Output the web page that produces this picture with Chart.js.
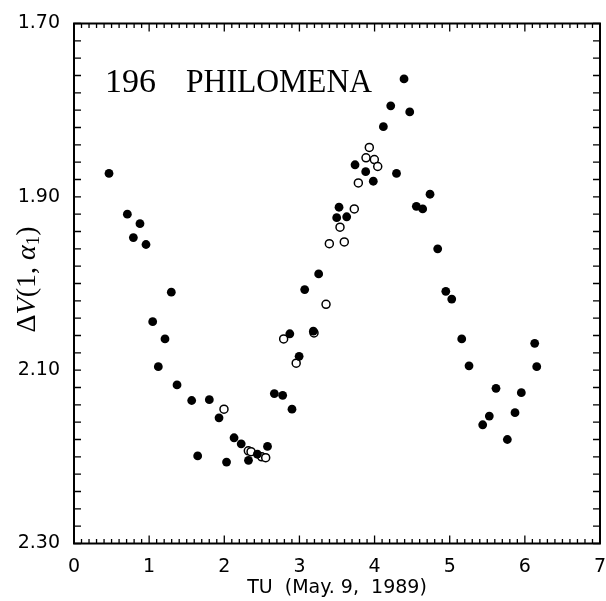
<!DOCTYPE html>
<html>
<head>
<meta charset="utf-8">
<script src="https://cdn.jsdelivr.net/npm/chart.js@4.4.1/dist/chart.umd.min.js"></script>
<style>
  html, body { margin: 0; padding: 0; background: #fff; }
  #wrap { width: 606px; height: 601px; position: relative; }
</style>
</head>
<body>
<div id="wrap"><canvas id="lc"></canvas></div>
<script>
// 196 Philomena lightcurve, TU (May 9, 1989)
const filledTU = [0.466, 0.710, 0.790, 0.878, 0.958, 1.047, 1.122, 1.211, 1.295, 1.371,
  1.566, 1.646, 1.801, 1.930, 2.030, 2.130, 2.225, 2.322, 2.440, 2.575,
  2.666, 2.777, 2.872, 2.901, 2.996, 3.070, 3.185, 3.256, 3.496, 3.527,
  3.629, 3.740, 3.882, 3.983, 4.117, 4.215, 4.292, 4.392, 4.468, 4.556,
  4.640, 4.738, 4.840, 4.948, 5.027, 5.160, 5.257, 5.439, 5.527, 5.616,
  5.767, 5.869, 5.953, 6.131, 6.158];
const filledDV = [1.873, 1.920, 1.947, 1.931, 1.955, 2.044, 2.096, 2.064, 2.010, 2.117,
  2.135, 2.199, 2.134, 2.155, 2.206, 2.178, 2.185, 2.204, 2.197, 2.188,
  2.127, 2.129, 2.058, 2.145, 2.084, 2.007, 2.055, 1.989, 1.924, 1.912,
  1.923, 1.863, 1.871, 1.882, 1.819, 1.795, 1.873, 1.764, 1.802, 1.911,
  1.914, 1.897, 1.960, 2.009, 2.018, 2.064, 2.095, 2.163, 2.153, 2.121,
  2.180, 2.149, 2.126, 2.069, 2.096];
const openTU = [1.996, 2.320, 2.356, 2.498, 2.551, 2.790, 2.957, 3.194, 3.354, 3.398,
  3.540, 3.597, 3.730, 3.784, 3.886, 3.930, 3.997, 4.042];
const openDV = [2.145, 2.193, 2.194, 2.200, 2.201, 2.064, 2.092, 2.057, 2.024, 1.954,
  1.935, 1.952, 1.914, 1.884, 1.855, 1.843, 1.857, 1.865];
const xTickLabels = [0, 1, 2, 3, 4, 5, 6, 7];
const yTickLabels = [1.70, 1.90, 2.10, 2.30];

const tickFont = { family: 'DejaVu Sans', size: 19, lineHeight: 1.0 };

// box with inward ticks on all four sides
const frameTicks = {
  id: 'frameTicks',
  afterDraw(chart) {
    const { ctx, chartArea: a, scales: { x, y } } = chart;
    ctx.save();
    ctx.strokeStyle = '#000';
    ctx.lineWidth = 1.3;
    ctx.beginPath();
    for (let i = 0; i <= 70; i++) {
      const px = x.getPixelForValue(i / 10);
      const len = i % 10 === 0 ? 8 : 4.5;
      ctx.moveTo(px, a.top); ctx.lineTo(px, a.top + len);
      ctx.moveTo(px, a.bottom); ctx.lineTo(px, a.bottom - len);
    }
    for (let i = 0; i <= 30; i++) {
      const py = y.getPixelForValue(1.70 + i * 0.02);
      ctx.moveTo(a.left, py); ctx.lineTo(a.left + 7, py);
      ctx.moveTo(a.right, py); ctx.lineTo(a.right - 7, py);
    }
    ctx.stroke();
    ctx.lineWidth = 2;
    ctx.strokeRect(a.left, a.top, a.right - a.left, a.bottom - a.top);

    // object name
    ctx.fillStyle = '#000';
    ctx.textBaseline = 'alphabetic';
    ctx.textAlign = 'left';
    ctx.font = '34px "Liberation Serif"';
    ctx.fillText('196', 105, 92);
    ctx.fillText('PHILOMENA', 186, 92, 186);

    // y axis title: ΔV(1, α1)
    const segs = [
      ['Δ', '28px "Liberation Serif"', 0],
      ['V', 'italic 28px "Liberation Serif"', 0],
      ['(1, ', '28px "Liberation Serif"', 0],
      ['α', 'italic 28px "Liberation Serif"', 0],
      ['1', '19px "Liberation Serif"', 6],
      [')', '28px "Liberation Serif"', 0]
    ];
    let total = 0;
    segs.forEach(s => { ctx.font = s[1]; total += ctx.measureText(s[0]).width; });
    ctx.translate(28, (a.top + a.bottom) / 2 - 4);
    ctx.rotate(-Math.PI / 2);
    ctx.textBaseline = 'middle';
    let cx = -total / 2;
    segs.forEach(s => {
      ctx.font = s[1];
      ctx.fillText(s[0], cx, s[2]);
      cx += ctx.measureText(s[0]).width;
    });
    ctx.restore();
  }
};

new Chart(document.getElementById('lc'), {
  type: 'scatter',
  data: {
    datasets: [
      {
        label: 'filled',
        data: filledTU.map((t, i) => ({ x: t, y: filledDV[i] })),
        pointRadius: 4.4,
        pointBackgroundColor: '#000',
        pointBorderColor: '#000',
        pointBorderWidth: 0
      },
      {
        label: 'open',
        data: openTU.map((t, i) => ({ x: t, y: openDV[i] })),
        pointRadius: 4,
        pointBackgroundColor: '#fff',
        pointBorderColor: '#000',
        pointBorderWidth: 1.5
      }
    ]
  },
  options: {
    responsive: true,
    maintainAspectRatio: false,
    animation: false,
    layout: { padding: { top: 21, right: 0, left: 0, bottom: 0 } },
    plugins: { legend: { display: false }, tooltip: { enabled: false } },
    scales: {
      x: {
        type: 'linear',
        min: 0, max: 7,
        afterBuildTicks(s) { s.ticks = xTickLabels.map(v => ({ value: v })); },
        afterFit(s) { s.height = 57.5; s.paddingRight = 6; s.paddingLeft = 0; },
        grid: { display: false, drawTicks: false },
        border: { display: false },
        ticks: { color: '#000', font: tickFont, padding: 14, maxRotation: 0, autoSkip: false },
        title: {
          display: true,
          text: 'TU  (May. 9,  1989)',
          color: '#000',
          font: tickFont,
          padding: { top: 3, bottom: 3.5 }
        }
      },
      y: {
        type: 'linear',
        reverse: true,
        min: 1.70, max: 2.30,
        afterBuildTicks(s) { s.ticks = yTickLabels.map(v => ({ value: v })); },
        afterFit(s) { s.width = 74; },
        grid: { display: false, drawTicks: false },
        border: { display: false },
        ticks: {
          color: '#000', font: tickFont, padding: 14, autoSkip: false,
          callback: v => Number(v).toFixed(2)
        }
      }
    }
  },
  plugins: [frameTicks]
});
</script>
</body>
</html>
